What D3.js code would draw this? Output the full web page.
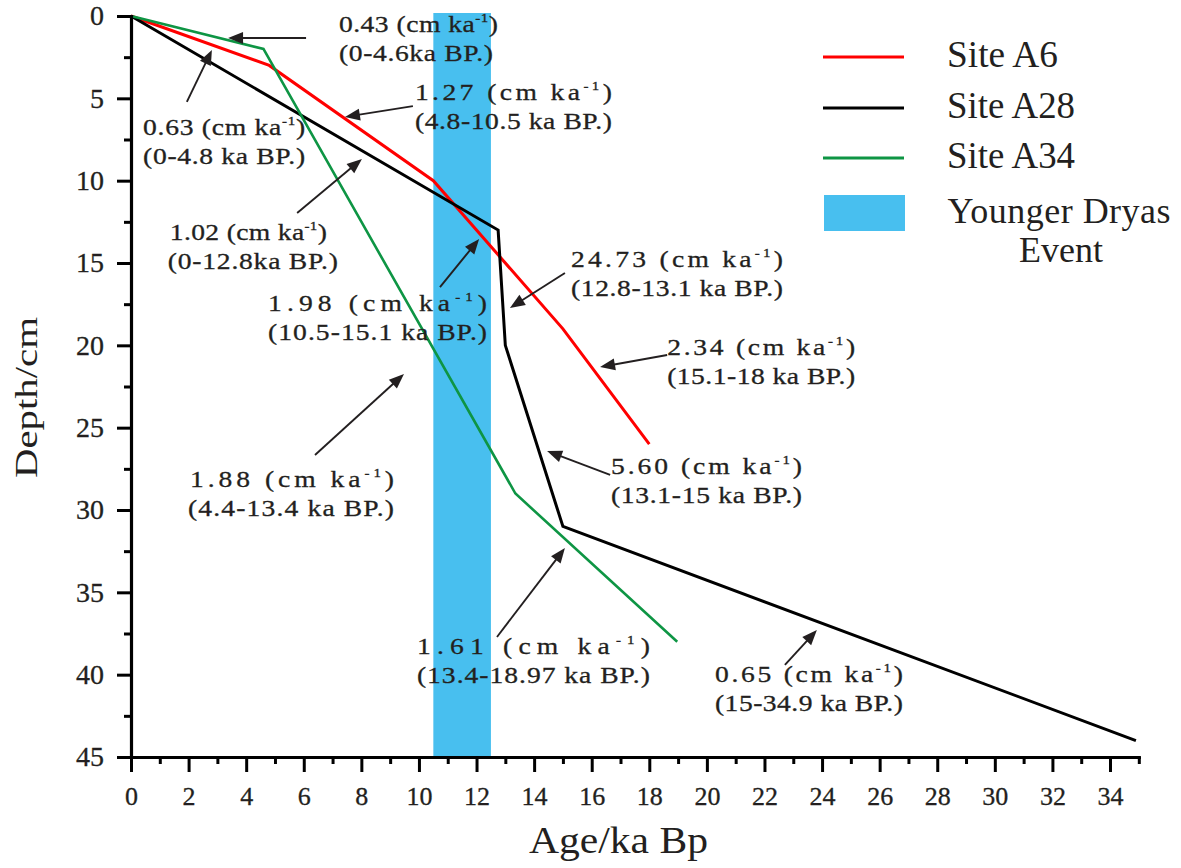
<!DOCTYPE html>
<html>
<head>
<meta charset="utf-8">
<script src="https://cdn.jsdelivr.net/npm/d3@7"></script>
<style>
  html, body { margin: 0; padding: 0; background: #fff; }
  svg { display: block; }
  text { font-family: "Liberation Serif", "Times New Roman", serif; fill: #231f20; }
</style>
</head>
<body>
<svg id="chart" width="1181" height="868"></svg>
<script>
// ---------- data ----------
const siteNames = ["Site A6", "Site A28", "Site A34"];
const siteA6Age   = [0, 4.8, 10.5, 15.0, 18.0];
const siteA6Depth = [0, 3.0, 10.0, 19.0, 26.0];
const siteA28Age   = [0, 12.75, 13.0, 15.0, 34.9];
const siteA28Depth = [0, 13.0, 20.0, 31.0, 44.0];
const siteA34Age   = [0, 4.6, 13.35, 18.97];
const siteA34Depth = [0, 2.0, 29.0, 38.0];
const youngerDryas = [10.5, 12.5];
const bandLabel = ["Younger Dryas", "Event"];
const xTicks = d3.range(0, 35, 2);
const xMinorTicks = d3.range(1, 36, 2);
const yTicks = d3.range(0, 46, 5);
const yMinorTicks = d3.range(2.5, 45, 5);
const xTitle = "Age/ka Bp";
const yTitle = "Depth/cm";

const rateValues = ["0.43", "0.63", "1.27", "1.02", "1.98", "24.73", "2.34", "1.88", "5.60", "1.61", "0.65"];
const rateRanges = ["(0-4.6ka BP.)", "(0-4.8 ka BP.)", "(4.8-10.5 ka BP.)", "(0-12.8ka BP.)",
  "(10.5-15.1 ka BP.)", "(12.8-13.1 ka BP.)", "(15.1-18 ka BP.)", "(4.4-13.4 ka BP.)",
  "(13.1-15 ka BP.)", "(13.4-18.97 ka BP.)", "(15-34.9 ka BP.)"];

// ---------- layout (annotation anchors in data units) ----------
const annLayout = [
  {a: 7.22, d: 0.97, w: [159, 154], dx2: 0, from: [6.08, 1.34], to: [3.37, 1.34]},
  {a: 0.42, d: 7.23, w: [162, 162], dx2: 0, from: [1.94, 5.22], to: [2.81, 2.06]},
  {a: 9.86, d: 5.10, w: [197, 197], dx2: 0, from: [9.79, 5.47], to: [7.43, 6.13]},
  {a: 1.35, d: 13.60, w: [157, 170], dx2: -2, from: [5.77, 11.96], to: [8.02, 8.68]},
  {a: 4.76, d: 17.91, w: [219, 219], dx2: 0, from: [10.73, 16.46], to: [12.09, 13.54]},
  {a: 15.28, d: 15.24, w: [212, 212], dx2: 0, from: [15.07, 15.61], to: [13.16, 17.73]},
  {a: 18.62, d: 20.59, w: [188, 188], dx2: 0, from: [18.62, 20.59], to: [16.29, 21.32]},
  {a: 2.05, d: 28.60, w: [204, 206], dx2: -2, from: [6.39, 26.66], to: [9.48, 21.74]},
  {a: 16.67, d: 27.81, w: [191, 191], dx2: 0, from: [16.64, 27.87], to: [14.45, 26.42]},
  {a: 9.93, d: 38.74, w: [233, 233], dx2: 0, from: [12.71, 37.71], to: [15.07, 32.31]},
  {a: 20.28, d: 40.44, w: [188, 188], dx2: 0, from: [22.71, 39.41], to: [23.82, 37.29]}
];

const svg = d3.select("#chart");
const x = d3.scaleLinear().domain([0, 35]).range([131, 1138.8]);
const y = d3.scaleLinear().domain([0, 45]).range([16, 757]);

const colors = ["#ff0000", "#000000", "#0e9544"];
const bandColor = "#48bfef";
const textColor = "#231f20";
const serifFont = "Liberation Serif, Times New Roman, serif";
const stretch = 1.15;

// band
svg.append("rect")
  .attr("x", x(youngerDryas[0]))
  .attr("y", y(0) - 3)
  .attr("width", x(youngerDryas[1]) - x(youngerDryas[0]))
  .attr("height", y(45) - y(0) + 3)
  .attr("fill", bandColor);

// lines
const series = [
  siteA6Age.map((a, i) => [a, siteA6Depth[i]]),
  siteA28Age.map((a, i) => [a, siteA28Depth[i]]),
  siteA34Age.map((a, i) => [a, siteA34Depth[i]])
];
const line = d3.line().x(d => x(d[0])).y(d => y(d[1]));
series.forEach((s, i) => {
  svg.append("path").datum(s)
    .attr("d", line)
    .attr("fill", "none")
    .attr("stroke", colors[i])
    .attr("stroke-width", i === 2 ? 2.6 : 3)
    .attr("stroke-linejoin", "miter");
});

// axes
const gx = svg.append("g").attr("transform", `translate(0,${y(45)})`);
gx.call(d3.axisBottom(x).tickValues(xTicks).tickSize(15).tickSizeOuter(0).tickFormat(d3.format("d")));
const gxm = svg.append("g").attr("transform", `translate(0,${y(45)})`);
gxm.call(d3.axisBottom(x).tickValues(xMinorTicks).tickSize(7).tickSizeOuter(0).tickFormat(""));
gxm.select(".domain").remove();

const gy = svg.append("g").attr("transform", `translate(${x(0)},0)`);
gy.call(d3.axisLeft(y).tickValues(yTicks).tickSize(14).tickSizeOuter(0).tickPadding(13));
const gym = svg.append("g").attr("transform", `translate(${x(0)},0)`);
gym.call(d3.axisLeft(y).tickValues(yMinorTicks).tickSize(7).tickSizeOuter(0).tickFormat(""));
gym.select(".domain").remove();

svg.selectAll("g").attr("font-family", null);
svg.selectAll(".domain").attr("stroke", "#000").attr("stroke-width", 3.2).attr("stroke-linecap", "square");
svg.selectAll(".tick line").attr("stroke", "#000").attr("stroke-width", 3);
gx.selectAll(".tick text")
  .attr("y", 48).attr("dy", 0)
  .style("font-family", serifFont)
  .style("font-size", "26px").attr("fill", textColor)
  .attr("stroke", textColor).attr("stroke-width", 0.3);
gy.selectAll(".tick text")
  .style("font-family", serifFont)
  .style("font-size", "28px").attr("fill", textColor)
  .attr("stroke", textColor).attr("stroke-width", 0.3);

// axis titles
svg.append("text")
  .attr("x", 529).attr("y", 853)
  .attr("textLength", 179).attr("lengthAdjust", "spacingAndGlyphs")
  .style("font-family", serifFont)
  .style("font-size", "37px")
  .text(xTitle);
svg.append("text")
  .attr("transform", "translate(37,478) rotate(-90)")
  .attr("textLength", 161).attr("lengthAdjust", "spacingAndGlyphs")
  .style("font-family", serifFont)
  .style("font-size", "32px")
  .text(yTitle);

// annotations
const annG = svg.append("g");
annLayout.forEach((L, i) => {
  const tx = x(L.a), ty = y(L.d);
  const t1 = annG.append("text")
    .attr("transform", `translate(${tx},${ty}) scale(${stretch},1)`)
    .attr("textLength", L.w[0] / stretch).attr("lengthAdjust", "spacing")
    .attr("stroke", textColor).attr("stroke-width", 0.3)
    .style("font-family", serifFont)
    .style("font-size", "24px");
  t1.append("tspan").text(rateValues[i] + " (cm ka");
  t1.append("tspan").attr("dy", -10).style("font-size", "13px").text("-1");
  t1.append("tspan").attr("dy", 10).text(")");
  annG.append("text")
    .attr("transform", `translate(${tx + L.dx2},${ty + 29}) scale(${stretch},1)`)
    .attr("textLength", L.w[1] / stretch).attr("lengthAdjust", "spacing")
    .attr("stroke", textColor).attr("stroke-width", 0.3)
    .style("font-family", serifFont)
    .style("font-size", "24px")
    .text(rateRanges[i]);

  // arrow
  const x1 = x(L.from[0]), y1 = y(L.from[1]);
  const x2 = x(L.to[0]), y2 = y(L.to[1]);
  const ang = Math.atan2(y2 - y1, x2 - x1);
  const hl = 15, hw = 6;
  const bx = x2 - hl * Math.cos(ang), by = y2 - hl * Math.sin(ang);
  annG.append("line")
    .attr("x1", x1).attr("y1", y1).attr("x2", bx + 2 * Math.cos(ang)).attr("y2", by + 2 * Math.sin(ang))
    .attr("stroke", textColor).attr("stroke-width", 1.9);
  const pts = [
    [x2, y2],
    [bx - hw * Math.sin(ang), by + hw * Math.cos(ang)],
    [bx + hw * Math.sin(ang), by - hw * Math.cos(ang)]
  ];
  annG.append("polygon")
    .attr("points", pts.map(p => p.join(",")).join(" "))
    .attr("fill", textColor);
});

// legend
const lg = svg.append("g");
const legendRows = [57, 108, 158];
siteNames.forEach((name, i) => {
  lg.append("line")
    .attr("x1", 823).attr("x2", 904)
    .attr("y1", legendRows[i]).attr("y2", legendRows[i])
    .attr("stroke", colors[i]).attr("stroke-width", 3);
  lg.append("text")
    .attr("x", 947).attr("y", legendRows[i] + 10)
    .attr("textLength", 111 + (i > 0 ? 17 : 0)).attr("lengthAdjust", "spacingAndGlyphs")
    .style("font-family", serifFont)
    .style("font-size", "37px")
    .text(name);
});
lg.append("rect")
  .attr("x", 824).attr("y", 195).attr("width", 81).attr("height", 36)
  .attr("fill", bandColor);
lg.append("text")
  .attr("x", 1059).attr("y", 223).attr("text-anchor", "middle")
  .attr("textLength", 223).attr("lengthAdjust", "spacing")
  .style("font-family", serifFont)
  .style("font-size", "36px")
  .text(bandLabel[0]);
lg.append("text")
  .attr("x", 1061).attr("y", 262).attr("text-anchor", "middle")
  .style("font-family", serifFont)
  .style("font-size", "36px")
  .text(bandLabel[1]);
</script>
</body>
</html>
